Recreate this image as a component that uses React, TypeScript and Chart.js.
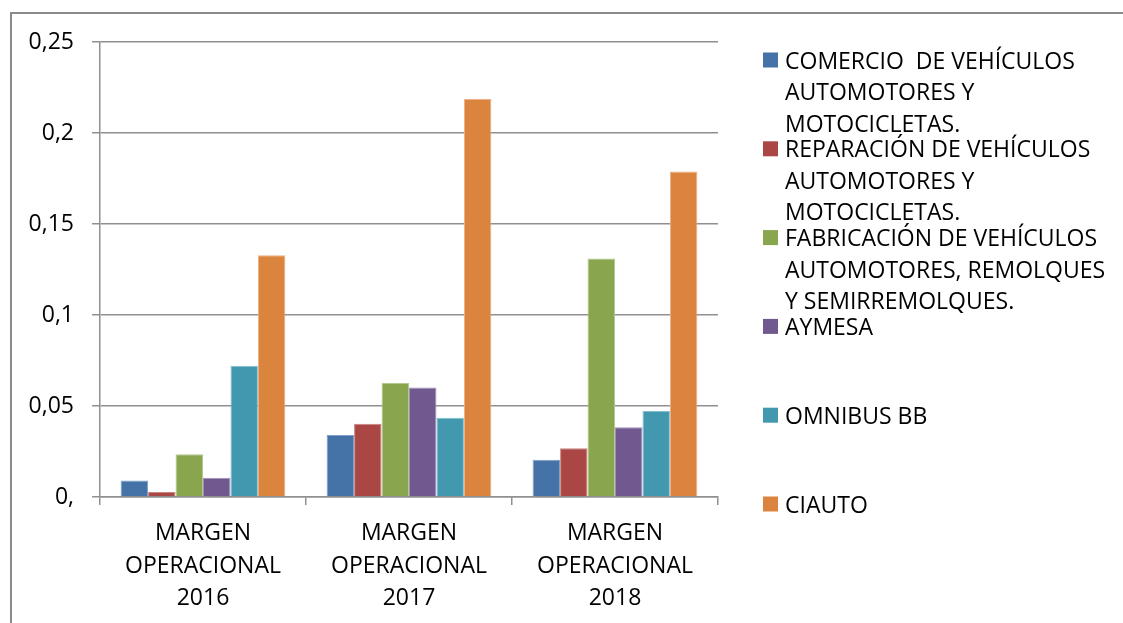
import React, { useEffect, useRef } from "react";
import { Chart, registerables } from "chart.js";

Chart.register(...registerables);

const categories = [
  ["MARGEN", "OPERACIONAL", "2016"],
  ["MARGEN", "OPERACIONAL", "2017"],
  ["MARGEN", "OPERACIONAL", "2018"],
];

const legendLines = [
  ["COMERCIO  DE VEHÍCULOS", "AUTOMOTORES Y", "MOTOCICLETAS."],
  ["REPARACIÓN DE VEHÍCULOS", "AUTOMOTORES Y", "MOTOCICLETAS."],
  ["FABRICACIÓN DE VEHÍCULOS", "AUTOMOTORES, REMOLQUES", "Y SEMIRREMOLQUES."],
  ["AYMESA"],
  ["OMNIBUS BB"],
  ["CIAUTO"],
];

const comercio = [0.009, 0.034, 0.0205];
const reparacion = [0.0027, 0.0403, 0.0268];
const fabricacion = [0.0235, 0.0626, 0.131];
const aymesa = [0.0106, 0.0601, 0.0383];
const omnibus = [0.0721, 0.0436, 0.0473];
const ciauto = [0.1328, 0.2187, 0.1788];

const yTickLabels = ["0,", "0,05", "0,1", "0,15", "0,2", "0,25"];

const seriesValues = [comercio, reparacion, fabricacion, aymesa, omnibus, ciauto];
const fillColors = ["#4572A7", "#AA4643", "#89A54E", "#71588F", "#4198AF", "#DB843D"];
const edgeColors = ["#7f9fc6", "#c98380", "#b2c98e", "#a18fb8", "#86c0d0", "#edb185"];

const FONT = '"Open Sans", "DejaVu Sans", sans-serif';
const GRID = "#909090";

const sideLegend = {
  id: "sideLegend",
  afterDraw(chart: any) {
    const ctx = chart.ctx;
    ctx.save();
    ctx.font = `23px ${FONT}`;
    ctx.textBaseline = "middle";
    ctx.textAlign = "left";
    chart.data.datasets.forEach((ds: any, i: number) => {
      const y = 60 + i * 88.8;
      ctx.fillStyle = ds.backgroundColor;
      ctx.fillRect(763, y - 7.5, 15, 15);
      ctx.fillStyle = "#000";
      legendLines[i].forEach((line, j) => {
        ctx.fillText(line, 785, y + 2 + j * 31.5);
      });
    });
    ctx.restore();
  },
};

export default function App() {
  const ref = useRef<HTMLCanvasElement | null>(null);

  useEffect(() => {
    if (!ref.current) return;
    const chart = new Chart(ref.current, {
      type: "bar",
      data: {
        labels: categories,
        datasets: seriesValues.map((vals, i) => ({
          label: legendLines[i].join(" "),
          data: vals,
          backgroundColor: fillColors[i],
          borderColor: edgeColors[i],
          borderWidth: 1,
          categoryPercentage: 0.8,
          barPercentage: 1,
        })),
      },
      options: {
        animation: false,
        responsive: false,
        maintainAspectRatio: false,
        layout: { padding: { top: 42, right: 405, bottom: 0, left: 0 } },
        plugins: {
          legend: { display: false },
          tooltip: { enabled: false },
        },
        scales: {
          x: {
            grid: {
              display: true,
              drawOnChartArea: false,
              drawTicks: true,
              tickLength: 8,
              color: GRID,
              lineWidth: 1.5,
              offset: true,
            },
            border: { display: true, color: GRID, width: 1.5 },
            ticks: {
              color: "#000",
              padding: 12,
              maxRotation: 0,
              autoSkip: false,
              font: { family: FONT, size: 23, lineHeight: 1.42 },
            },
            afterFit(scale: any) {
              scale.height = 126;
            },
          },
          y: {
            min: 0,
            max: 0.25,
            ticks: {
              stepSize: 0.05,
              color: "#000",
              padding: 18,
              font: { family: FONT, size: 23 },
              callback: (value: any) => yTickLabels[Math.round(Number(value) / 0.05)],
            },
            grid: {
              color: GRID,
              lineWidth: 1.5,
              tickLength: 8,
            },
            border: { display: true, color: GRID, width: 1.5 },
            afterFit(scale: any) {
              scale.width = 100;
            },
          },
        },
      },
      plugins: [sideLegend],
    });
    return () => chart.destroy();
  }, []);

  return (
    <div
      style={{
        position: "fixed",
        left: 0,
        top: 0,
        width: 1123,
        height: 623,
        background: "#fff",
        overflow: "hidden",
      }}
    >
      <div
        style={{
          position: "absolute",
          left: 10,
          top: 12,
          width: 1200,
          height: 700,
          borderLeft: "2px solid #8a8a8a",
          borderTop: "2px solid #8a8a8a",
        }}
      />
      <canvas
        ref={ref}
        width={1123}
        height={623}
        style={{ position: "absolute", left: 0, top: 0, width: 1123, height: 623 }}
      />
    </div>
  );
}
